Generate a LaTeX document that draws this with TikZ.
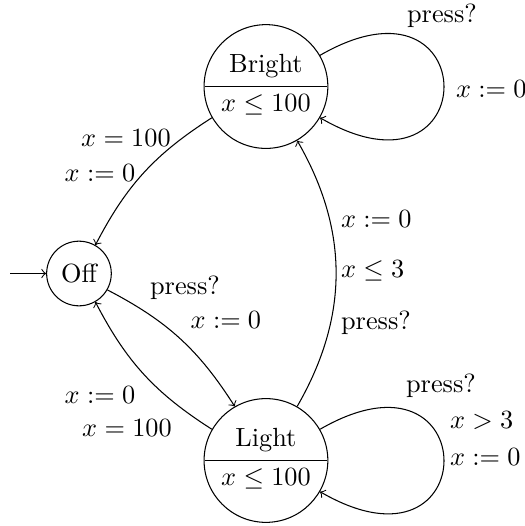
\documentclass[tikz,border=0pt]{standalone}
\usepackage{tikz}
\usetikzlibrary{shapes.multipart}

\begin{document}
\begin{tikzpicture}[
    state/.style={
        circle,
        draw
    },
    invstate/.style={
        circle split,
        draw,
        inner xsep=1pt, inner ysep=3pt,
        minimum size=1.63cm
    },
    trans/.style={
        ->
    },
    selfloop/.style={
        loop, out=30, in=-30,
        min distance=2.55cm
    },
    guard/.style={
        inner sep=1pt
    }
]
    \useasboundingbox (-1.056,-3.376) rectangle (5.963,3.657);

    % The 3 Locations ===========================
    \node[state] (Off) at (0, 0) {Off};

    \node[invstate] (Bright) at (2.5, 2.5) {
        Bright
        \nodepart{lower}
        $x \leq 100$
    };

    \node[invstate] (Light) at (2.5, -2.5) {
        Light
        \nodepart{lower}
        $x \leq 100$
    };

    % Transitions ====================
    \coordinate (start) at (-0.92, 0);
    \draw[trans] (start) -- (Off);

    % From Bright back to Off
    \draw[trans] (Bright) to[bend right=15] (Off);

    % From Off to Light and back
    \draw[trans] (Off) to[bend left=15] (Light);
    \draw[trans] (Light) to[bend left=15] (Off);

    % From Light up to Bright
    \draw[trans] (Light) to[bend right=30] (Bright);

    % Self loops
    \draw[trans] (Bright) to[selfloop] (Bright);
    \draw[trans] (Light) to[selfloop] (Light);

    % Labels of the transitions ==================
    \node[guard] (bo1) at (0.628, 1.805) {$x = 100$};
    \node[guard] (bo2) at (0.281, 1.350) {$x := 0$};

    \node[guard] (ol1) at (1.417, -0.187) {press?};
    \node[guard] (ol2) at (1.965, -0.628) {$x := 0$};

    \node[guard] (lo1) at (0.281, -1.631) {$x := 0$};
    \node[guard] (lo2) at (0.642, -2.072) {$x = 100$};

    \node[guard, anchor=west] (lb1) at (3.463, 0.735) {$x := 0$};
    \node[guard, anchor=west] (lb2) at (3.463, 0.040) {$x \leq 3$};
    \node[guard, anchor=west] (lb3) at (3.463, -0.655) {press?};

    \node[guard] (bb1) at (4.853, 3.449) {press?};
    \node[guard, anchor=west] (bb2) at (5.000, 2.473) {$x := 0$};

    \node[guard] (ll1) at (4.840, -1.497) {press?};
    \node[guard, anchor=west] (ll2) at (4.920, -1.965) {$x > 3$};
    \node[guard, anchor=west] (ll3) at (4.920, -2.460) {$x := 0$};

\end{tikzpicture}
\end{document}
